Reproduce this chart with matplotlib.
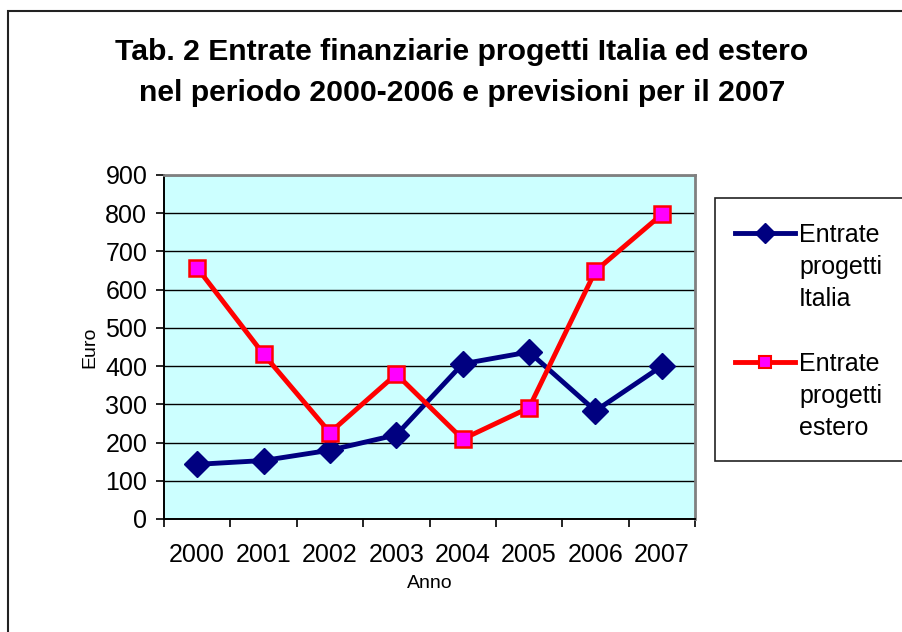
import matplotlib
matplotlib.use("Agg")
import matplotlib.pyplot as plt
from matplotlib.lines import Line2D
from matplotlib.patches import Rectangle
import numpy as np

plt.rcParams['font.family'] = ['Liberation Sans', 'DejaVu Sans']

years = ["2000", "2001", "2002", "2003", "2004", "2005", "2006", "2007"]
italia = [143, 153, 180, 220, 406, 437, 283, 400]
estero = [657, 431, 226, 379, 209, 291, 649, 797]
label_italia = "Entrate\nprogetti\nItalia"
label_estero = "Entrate\nprogetti\nestero"
title_lines = ["Tab. 2 Entrate finanziarie progetti Italia ed estero",
               "nel periodo 2000-2006 e previsioni per il 2007"]

W, H = 902, 632
fig = plt.figure(figsize=(W / 100, H / 100), dpi=100)

def fx(px):
    return px / W

def fy(py):
    return 1 - py / H

# outer chart border
fig.patches.append(Rectangle((fx(8), fy(640)), fx(910) - fx(8), fy(11) - fy(640),
                             transform=fig.transFigure, fill=False,
                             edgecolor='#222222', linewidth=1.5))

left, right, top, bottom = 164, 695, 175, 519
ax = fig.add_axes([fx(left), fy(bottom), fx(right) - fx(left), fy(top) - fy(bottom)])
ax.set_facecolor('#CCFFFF')

x = np.arange(len(years))
ax.set_xlim(-0.5, len(years) - 0.5)
ax.set_ylim(0, 900)
ax.set_yticks(np.arange(0, 901, 100))
ax.yaxis.grid(True, color='black', linewidth=1)
ax.set_axisbelow(True)

ax.plot(x, italia, color='#000080', linewidth=3.5, marker='D', markersize=13,
        markerfacecolor='#000080', markeredgecolor='#000080', zorder=3)
ax.plot(x, estero, color='#FF0000', linewidth=3.5, marker='s', markersize=11,
        markerfacecolor='#FF00FF', markeredgecolor='#FF0000', markeredgewidth=1.8, zorder=4)

ax.set_xticks(x)
ax.set_xticklabels(years)
ax.set_xticks(np.arange(-0.5, len(years)), minor=True)
ax.tick_params(axis='x', which='major', length=0, pad=17, labelsize=18)
ax.tick_params(axis='x', which='minor', length=6, width=1.2, direction='out')
ax.tick_params(axis='y', length=6, width=1.2, direction='out', pad=6, labelsize=18)

for side in ['left', 'bottom']:
    ax.spines[side].set_color('black')
    ax.spines[side].set_linewidth(1.4)
for side in ['top', 'right']:
    ax.spines[side].set_color('#808080')
    ax.spines[side].set_linewidth(2)

ax.set_ylabel("Euro", fontsize=14, labelpad=5)
ax.set_xlabel("Anno", fontsize=14, labelpad=6)

# title
fig.text(fx(462), fy(52), title_lines[0], ha='center', va='center',
         fontsize=21.7, fontweight='bold')
fig.text(fx(462), fy(93), title_lines[1], ha='center', va='center',
         fontsize=21.7, fontweight='bold')

# legend
fig.patches.append(Rectangle((fx(715), fy(461)), fx(910) - fx(715), fy(198) - fy(461),
                             transform=fig.transFigure, fill=True, facecolor='white',
                             edgecolor='#222222', linewidth=1.2, zorder=5))
entries = [(label_italia, 233, '#000080',
            dict(marker='D', markersize=10, markerfacecolor='#000080', markeredgecolor='#000080')),
           (label_estero, 362, '#FF0000',
            dict(marker='s', markersize=9, markerfacecolor='#FF00FF', markeredgecolor='#FF0000',
                 markeredgewidth=1.5))]
for lab, yy, col, mstyle in entries:
    fig.lines.append(Line2D([fx(735), fx(795)], [fy(yy), fy(yy)], transform=fig.transFigure,
                            color=col, linewidth=3.5, zorder=6))
    fig.lines.append(Line2D([fx(765)], [fy(yy)], transform=fig.transFigure,
                            linestyle='none', zorder=7, **mstyle))
    fig.text(fx(799), fy(yy - 10), lab, ha='left', va='top', fontsize=18,
             linespacing=1.42, zorder=8)

fig.savefig("out.png", dpi=100)
